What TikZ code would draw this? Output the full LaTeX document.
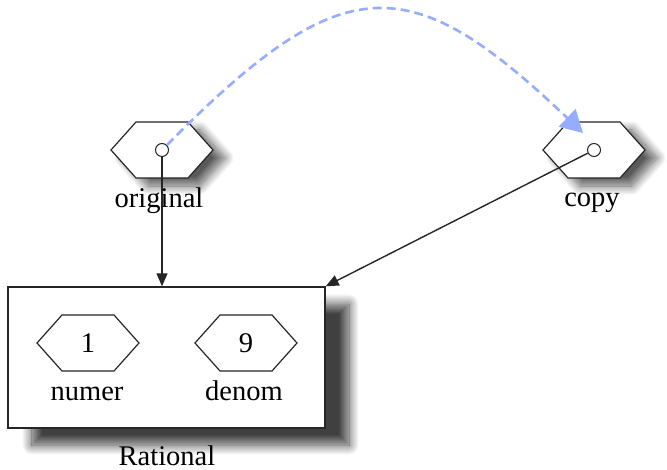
\documentclass[tikz,border=0pt]{standalone}
\usepackage{fontspec}
\setmainfont{Liberation Serif}
\usetikzlibrary{shadows.blur,arrows.meta,calc}
\definecolor{refblue}{RGB}{150,172,255}
\tikzset{
  hexline/.style={draw=black!85, line width=1.2pt, fill=white},
  hexshadow/.style={blur shadow={shadow xshift=12pt, shadow yshift=-8pt, shadow blur steps=14, shadow blur radius=9pt, shadow opacity=65}},
  boxshadow/.style={blur shadow={shadow xshift=24pt, shadow yshift=-17pt, shadow blur steps=14, shadow blur radius=10pt, shadow opacity=75}},
  port/.style={circle, draw=black!85, fill=white, inner sep=0pt, minimum size=13pt, line width=1pt},
  lbl/.style={font=\fontsize{28.5}{32}\selectfont, inner sep=0pt, anchor=base},
  conn/.style={draw=black!85, line width=1.4pt, -{Triangle[length=13pt,width=11pt]}},
  refconn/.style={draw=refblue, line width=2.6pt, dash pattern=on 9pt off 5pt, -{Triangle[length=22pt,width=24pt]}},
  ratbox/.style={draw=black!85, line width=1.4pt, fill=white}
}
\newcommand{\hexpath}[2]{% #1 center name, #2 style
  \path[#2] ($(#1)+(-51,0)$) -- ($(#1)+(-26,-28)$) -- ($(#1)+(26,-28)$) -- ($(#1)+(51,0)$) -- ($(#1)+(26,28)$) -- ($(#1)+(-26,28)$) -- cycle;}
\begin{document}
\begin{tikzpicture}[x=1pt,y=-1pt]
\useasboundingbox (0,0) rectangle (667,470);
% Rational box
\node[ratbox, boxshadow, minimum width=317pt, minimum height=141pt, inner sep=0pt] (rat) at (166.5,357.5) {};
\node[lbl] (ratlbl) at (167,465) {Rational};
% inner hexagons
\coordinate (h1) at (88,343);
\hexpath{h1}{hexline}
\node[lbl] (one) at (88,353) {1};
\node[lbl] (numer) at (87,400) {numer};
\coordinate (h9) at (246,343);
\hexpath{h9}{hexline}
\node[lbl] (nine) at (246,353) {9};
\node[lbl] (denom) at (244,400) {denom};
% original
\coordinate (orig) at (162,150);
\hexpath{orig}{hexline,hexshadow}
\node[lbl] (origlbl) at (159,208) {original};
% copy
\coordinate (copy) at (594,150);
\hexpath{copy}{hexline,hexshadow}
\node[lbl] (copylbl) at (592,207) {copy};
% ports
\node[port] (op) at (orig) {};
\node[port] (cp) at (copy) {};
% connectors
\draw[conn] (op.south) -- (op.south |- rat.north);
\draw[conn] (cp) -- (rat.north east);
\draw[refconn] (op.45) .. controls (343,-33) and (409,-33) .. (583,133);
\end{tikzpicture}
\end{document}
